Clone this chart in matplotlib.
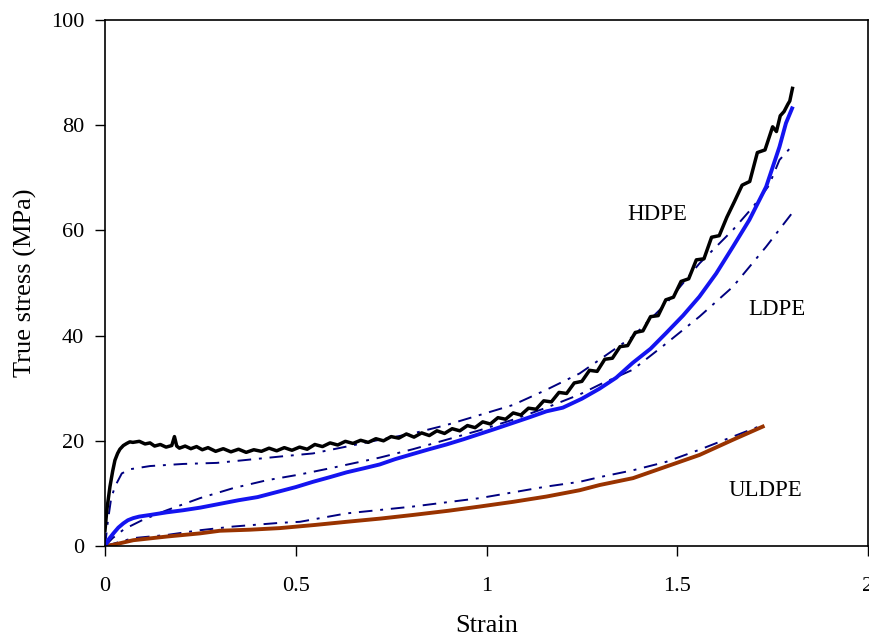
"""True stress vs strain for HDPE, LDPE and ULDPE: measured curves and model fits."""

import matplotlib
matplotlib.use("Agg")
import matplotlib.pyplot as plt

hdpe_strain = [0, 0.005, 0.013, 0.02, 0.026, 0.033, 0.039, 0.048, 0.057, 0.065,
               0.073, 0.09, 0.105, 0.118, 0.13, 0.145, 0.16, 0.175, 0.182, 0.188,
               0.195, 0.21, 0.225, 0.24, 0.255, 0.27, 0.29, 0.31, 0.33, 0.35,
               0.37, 0.39, 0.41, 0.43, 0.45, 0.47, 0.49, 0.51, 0.53, 0.55,
               0.57, 0.59, 0.61, 0.63, 0.65, 0.67, 0.69, 0.71, 0.73, 0.75,
               0.77, 0.79, 0.81, 0.83, 0.85, 0.87, 0.89, 0.91, 0.93, 0.95,
               0.97, 0.99, 1.01, 1.03, 1.05, 1.07, 1.09, 1.11, 1.13, 1.15,
               1.17, 1.19, 1.21, 1.23, 1.25, 1.27, 1.29, 1.31, 1.33, 1.35,
               1.37, 1.39, 1.41, 1.43, 1.45, 1.47, 1.49, 1.51, 1.53, 1.55,
               1.57, 1.59, 1.61, 1.63, 1.65, 1.67, 1.69, 1.71, 1.73, 1.75,
               1.76, 1.77, 1.78, 1.79, 1.795, 1.802]
hdpe_stress = [3.0, 7.0, 11.3, 14.2, 16.3, 17.6, 18.4, 19.1, 19.5, 19.8,
               19.7, 19.9, 19.4, 19.6, 19.0, 19.3, 18.8, 19.1, 20.8, 19.0,
               18.6, 19.0, 18.5, 18.9, 18.3, 18.7, 18.0, 18.5, 17.9, 18.4,
               17.8, 18.3, 18.0, 18.6, 18.1, 18.7, 18.2, 18.8, 18.4, 19.3,
               18.9, 19.6, 19.2, 19.9, 19.5, 20.1, 19.7, 20.4, 20.0, 20.8,
               20.5, 21.3, 20.7, 21.5, 21.0, 21.9, 21.4, 22.3, 21.9, 22.9,
               22.5, 23.6, 23.2, 24.4, 24.1, 25.3, 24.9, 26.2, 26.0, 27.6,
               27.4, 29.2, 29.0, 31.0, 31.3, 33.4, 33.2, 35.5, 35.7, 37.9,
               38.1, 40.6, 40.9, 43.6, 43.8, 46.8, 47.3, 50.3, 50.8, 54.4,
               54.6, 58.7, 59.0, 62.5, 65.5, 68.6, 69.3, 74.8, 75.3, 79.7,
               78.8, 81.8, 82.6, 84.0, 84.6, 87.0]

ldpe_strain = [0, 0.004, 0.01, 0.022, 0.035, 0.048, 0.06, 0.074, 0.09, 0.118,
               0.162, 0.205, 0.25, 0.3, 0.35, 0.4, 0.458, 0.5, 0.545, 0.59,
               0.633, 0.68, 0.72, 0.76, 0.807, 0.85, 0.895, 0.94, 0.982, 1.02,
               1.069, 1.11, 1.157, 1.2, 1.25, 1.296, 1.34, 1.383, 1.43, 1.471,
               1.515, 1.558, 1.602, 1.646, 1.689, 1.733, 1.768, 1.785, 1.801]
ldpe_stress = [0, 0.5, 1.3, 2.4, 3.5, 4.3, 4.9, 5.3, 5.6, 5.9,
               6.4, 6.8, 7.3, 8.0, 8.7, 9.3, 10.4, 11.2, 12.2, 13.1,
               14.0, 14.8, 15.5, 16.5, 17.5, 18.4, 19.3, 20.3, 21.3, 22.2,
               23.4, 24.4, 25.6, 26.3, 28.0, 29.9, 32.0, 34.8, 37.5, 40.5,
               43.8, 47.4, 51.8, 56.9, 62.0, 68.3, 75.9, 80.4, 83.2]

uldpe_strain = [0, 0.02, 0.074, 0.162, 0.249, 0.301, 0.38, 0.458, 0.55, 0.633,
                0.72, 0.807, 0.9, 0.982, 1.07, 1.157, 1.244, 1.297, 1.384,
                1.471, 1.558, 1.646, 1.724]
uldpe_stress = [0, 0.2, 1.1, 1.8, 2.4, 2.9, 3.1, 3.4, 4.0, 4.6,
                5.2, 5.9, 6.7, 7.5, 8.4, 9.4, 10.6, 11.6, 12.9,
                15.1, 17.3, 20.2, 22.7]

# model fits (dash-dot)
hdpe_fit_strain = [0, 0.008, 0.016, 0.026, 0.044, 0.066, 0.118, 0.205, 0.293, 0.458,
                   0.545, 0.633, 0.72, 0.807, 0.895, 0.982, 1.069, 1.157, 1.244,
                   1.296, 1.383, 1.471, 1.558, 1.646, 1.699, 1.74, 1.768, 1.799]
hdpe_fit_stress = [0, 5.0, 9.0, 11.3, 13.8, 14.6, 15.2, 15.6, 15.8, 17.0,
                   17.6, 18.9, 20.2, 21.4, 23.0, 24.9, 26.8, 29.7, 32.8,
                   35.4, 39.8, 46.1, 53.7, 60.1, 64.5, 68.5, 73.4, 75.9]

ldpe_fit_strain = [0, 0.02, 0.05, 0.1, 0.162, 0.249, 0.336, 0.424, 0.511, 0.598,
                   0.72, 0.807, 0.895, 0.982, 1.069, 1.157, 1.244, 1.3, 1.383,
                   1.471, 1.558, 1.646, 1.733, 1.8]
ldpe_fit_stress = [0, 1.5, 3.2, 5.0, 6.8, 9.1, 11.0, 12.5, 13.6, 14.9,
                   16.8, 18.4, 20.2, 22.0, 24.0, 26.3, 28.8, 30.8, 33.5,
                   38.5, 43.6, 49.3, 56.9, 63.2]

uldpe_fit_strain = [0, 0.074, 0.162, 0.249, 0.336, 0.458, 0.511, 0.633, 0.807,
                    0.982, 1.157, 1.244, 1.297, 1.384, 1.471, 1.558, 1.646, 1.724]
uldpe_fit_stress = [0, 1.5, 2.1, 3.0, 3.7, 4.4, 4.6, 6.2, 7.5,
                    9.1, 11.3, 12.2, 13.1, 14.4, 16.0, 18.3, 20.8, 23.0]

plt.rcParams["font.family"] = ["Liberation Serif", "DejaVu Serif"]

fig = plt.figure(figsize=(8.7, 6.41), dpi=100, facecolor="white")
ax = fig.add_axes([0.1207, 0.1482, 0.8770, 0.8206])

fit_style = dict(color="#000080", lw=1.4, ls=(0, (7, 4, 1.5, 4)))
ax.plot(hdpe_fit_strain, hdpe_fit_stress, **fit_style)
ax.plot(ldpe_fit_strain, ldpe_fit_stress, **fit_style)
ax.plot(uldpe_fit_strain, uldpe_fit_stress, **fit_style)

ax.plot(uldpe_strain, uldpe_stress, color="#993300", lw=2.8)
ax.plot(ldpe_strain, ldpe_stress, color="#1414f0", lw=2.8)
ax.plot(hdpe_strain, hdpe_stress, color="black", lw=2.5)

ax.text(1.37, 63, "HDPE", fontsize=16.5, ha="left", va="center")
ax.text(1.685, 45, "LDPE", fontsize=16.5, ha="left", va="center")
ax.text(1.635, 10.5, "ULDPE", fontsize=16.5, ha="left", va="center")

ax.set_xlim(0, 2)
ax.set_ylim(0, 100)
ax.set_xticks([0, 0.5, 1, 1.5, 2])
ax.set_xticklabels(["0", "0.5", "1", "1.5", "2"])
ax.set_yticks([0, 20, 40, 60, 80, 100])
ax.tick_params(direction="out", length=7, width=1, labelsize=16)
ax.tick_params(axis="x", pad=15)
ax.tick_params(axis="y", pad=8)
for s in ax.spines.values():
    s.set_linewidth(1.2)

ax.set_xlabel("Strain", fontsize=19, labelpad=14)
ax.set_ylabel("True stress (MPa)", fontsize=19, labelpad=10)

fig.savefig("out.png", dpi=100, facecolor="white")
